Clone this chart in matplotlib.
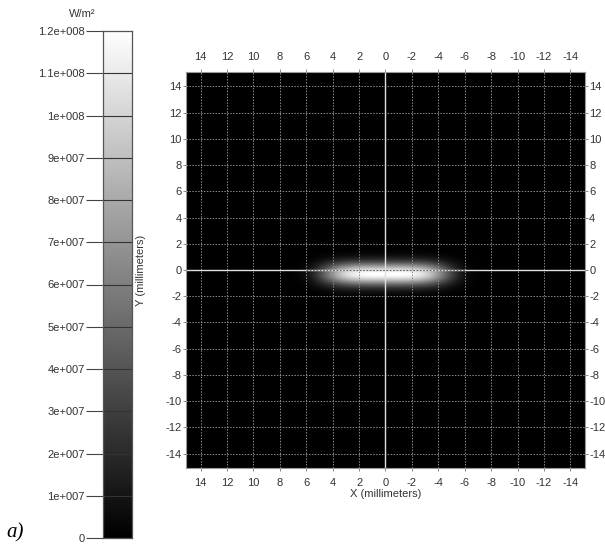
#
# Beam intensity map (W/m^2) with a separate gray colour scale on the left
#

import numpy as np
from matplotlib import pyplot as plt
from matplotlib.colors import Normalize

#
# Data
#

# beam parameters (millimeters, W/m^2)
beam_peak = 1.2e8
beam_x0 = 0.0
beam_y0 = -0.3
beam_half_x = 4.7
beam_sigma_y = 0.6

# axis ticks
xy_ticks = [14, 12, 10, 8, 6, 4, 2, 0, -2, -4, -6, -8, -10, -12, -14]
cbar_ticks = [0, 1e7, 2e7, 3e7, 4e7, 5e7, 6e7, 7e7, 8e7, 9e7, 1e8, 1.1e8, 1.2e8]
cbar_labels = ["0", "1e+007", "2e+007", "3e+007", "4e+007", "5e+007", "6e+007",
               "7e+007", "8e+007", "9e+007", "1e+008", "1.1e+008", "1.2e+008"]

# grid of the field
grid_x = np.linspace(-15.1, 15.1, 400)
grid_y = np.linspace(-15.1, 15.1, 400)
gx, gy = np.meshgrid(grid_x, grid_y)
field = beam_peak * np.exp(-((gx - beam_x0) / beam_half_x) ** 4) \
	* np.exp(-0.5 * ((gy - beam_y0) / beam_sigma_y) ** 2)

#
# Plotting
#

plt.rcParams['font.family'] = ['Liberation Sans', 'DejaVu Sans']
text_col = "#333333"
fs = 8

fig = plt.figure(figsize=(6.05, 5.44), dpi=100)

# main map
ax = fig.add_axes([186 / 605, 1 - 468 / 544, 399 / 605, 396 / 544])
norm = Normalize(vmin=0, vmax=beam_peak)
ax.imshow(field, cmap="gray", norm=norm, origin="lower",
		  extent=[grid_x[0], grid_x[-1], grid_y[0], grid_y[-1]],
		  interpolation="bilinear", aspect="auto")
ax.set_xlim(15.1, -15.1)
ax.set_ylim(-15.1, 15.1)

# dashed grid and solid zero lines
for t in xy_ticks:
	if t == 0:
		continue
	ax.axvline(t, color="#8a8a8a", lw=0.7, ls=(0, (1.5, 1.5)))
	ax.axhline(t, color="#8a8a8a", lw=0.7, ls=(0, (1.5, 1.5)))
ax.axvline(0, color="#e0e0e0", lw=1.0)
ax.axhline(0, color="#e0e0e0", lw=1.0)
ax.axhline(0, color="#666666", lw=0.8, ls=(0, (1.5, 1.5)), xmin=0.3, xmax=0.7)

ax.set_xticks(xy_ticks)
ax.set_yticks(xy_ticks)
ax.set_xticklabels([str(t) for t in xy_ticks])
ax.set_yticklabels([str(t) for t in xy_ticks])
ax.tick_params(axis="both", which="both", top=True, bottom=True, left=True, right=True,
			   labeltop=True, labelbottom=True, labelleft=True, labelright=True,
			   length=2, width=0.7, color="#888888", labelsize=fs, labelcolor=text_col, pad=1)
ax.tick_params(axis="x", pad=5)
for s in ax.spines.values():
	s.set_color("#999999")
	s.set_linewidth(0.8)

ax.set_xlabel("X (millimeters)", fontsize=fs, color=text_col, labelpad=1)
ax.set_ylabel("Y (millimeters)", fontsize=fs, color=text_col, labelpad=14)

# colour scale
cax = fig.add_axes([103 / 605, 1 - 538 / 544, 29 / 605, 507 / 544])
cax.imshow(np.linspace(0, beam_peak, 256).reshape(-1, 1), cmap="gray", norm=norm,
		   origin="lower", extent=[0, 1, 0, beam_peak], aspect="auto")
cax.set_xlim(0, 1)
cax.set_ylim(0, beam_peak)
cax.set_xticks([])
cax.set_yticks(cbar_ticks)
cax.set_yticklabels(cbar_labels)
cax.tick_params(axis="y", length=12, width=0.8, color="#444444", labelsize=fs,
				labelcolor=text_col, pad=1)
for t in cbar_ticks[1:-1]:
	cax.axhline(t, color="#333333", lw=0.8)
for s in cax.spines.values():
	s.set_color("#555555")
	s.set_linewidth(0.9)

fig.text(82 / 605, 1 - 14 / 544, "W/m\u00b2", ha="center", va="center",
		 fontsize=fs, color=text_col)
fig.text(6 / 605, 1 - 533 / 544, "a)", ha="left", va="center",
		 fontsize=15, fontstyle="italic", family=["Liberation Serif", "DejaVu Serif"])

plt.savefig("out.png", dpi=100)
